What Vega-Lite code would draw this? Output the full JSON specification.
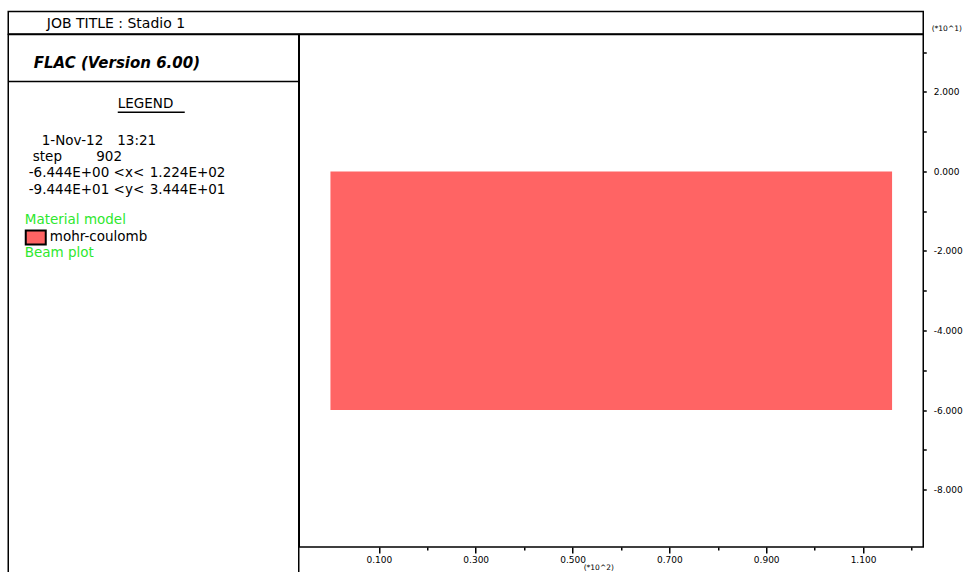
{
  "$schema": "https://vega.github.io/schema/vega-lite/v6.json",
  "background": "white",
  "padding": {"left": 6.25, "top": 10.5, "right": 0, "bottom": 0},
  "spacing": 0,
  "bounds": "flush",
  "config": {
    "view": {"stroke": "black", "strokeWidth": 1.5},
    "font": "DejaVu Sans",
    "text": {"font": "DejaVu Sans", "color": "black"}
  },
  "vconcat": [
    {
      "width": 915,
      "height": 22.5,
      "data": {"values": [{"label": "JOB TITLE : Stadio 1", "col": 38.5, "row": 12}]},
      "mark": {"type": "text", "align": "left", "baseline": "middle", "fontSize": 14},
      "encoding": {
        "x": {"field": "col", "type": "quantitative", "scale": {"domain": [0, 915], "nice": false, "zero": false}, "axis": null},
        "y": {"field": "row", "type": "quantitative", "scale": {"domain": [0, 22.5], "reverse": true, "nice": false, "zero": false}, "axis": null},
        "text": {"field": "label"}
      }
    },
    {
      "hconcat": [
        {
          "width": 290.5,
          "height": 547,
          "layer": [
            {
              "data": {"values": [
                {"label": "FLAC (Version 6.00)", "col": 25.5, "line": -4.875}
              ]},
              "mark": {"type": "text", "align": "left", "baseline": "middle", "fontSize": 15, "fontWeight": "bold", "fontStyle": "italic"},
              "encoding": {
                "x": {"field": "col", "type": "quantitative", "scale": {"domain": [0, 290.5], "nice": false, "zero": false}, "axis": null},
                "y": {"field": "line", "type": "quantitative", "scale": {"domain": [-6.625, 27.5625], "reverse": true, "nice": false, "zero": false}, "axis": null},
                "text": {"field": "label"}
              }
            },
            {
              "data": {"values": [
                {"label": "LEGEND", "col": 109.5, "line": -2.3125, "kind": "plain"},
                {"label": "1-Nov-12", "col": 33.5, "line": 0, "kind": "plain"},
                {"label": "13:21", "col": 109, "line": 0, "kind": "plain"},
                {"label": "step", "col": 24.5, "line": 1, "kind": "plain"},
                {"label": "902", "col": 88, "line": 1, "kind": "plain"},
                {"label": "-6.444E+00 <x<", "col": 20.5, "line": 2, "kind": "plain"},
                {"label": "1.224E+02", "col": 141.5, "line": 2, "kind": "plain"},
                {"label": "-9.444E+01 <y<", "col": 20.5, "line": 3.1, "kind": "plain"},
                {"label": "3.444E+01", "col": 141.5, "line": 3.1, "kind": "plain"},
                {"label": "Material model", "col": 16.5, "line": 4.97, "kind": "green"},
                {"label": "mohr-coulomb", "col": 41.5, "line": 6.05, "kind": "plain"},
                {"label": "Beam plot", "col": 16.5, "line": 7.05, "kind": "green"}
              ]},
              "mark": {"type": "text", "align": "left", "baseline": "middle", "fontSize": 13.5},
              "encoding": {
                "x": {"field": "col", "type": "quantitative"},
                "y": {"field": "line", "type": "quantitative"},
                "text": {"field": "label"},
                "color": {"field": "kind", "type": "nominal", "scale": {"domain": ["plain", "green"], "range": ["black", "#2ee82e"]}, "legend": null}
              }
            },
            {
              "data": {"values": [
                {"item": "FLAC box divider", "col": 0, "col2": 290.5, "line": -3.6875},
                {"item": "LEGEND underline", "col": 109.5, "col2": 176.5, "line": -1.77}
              ]},
              "mark": {"type": "rule", "color": "black", "strokeWidth": 1.5},
              "encoding": {
                "x": {"field": "col", "type": "quantitative"},
                "x2": {"field": "col2"},
                "y": {"field": "line", "type": "quantitative"}
              }
            },
            {
              "data": {"values": [{"model": "mohr-coulomb", "col": 17.5, "col2": 37.5, "line": 5.625, "line2": 6.5}]},
              "mark": {"type": "rect", "fill": "#ff6464", "stroke": "black", "strokeWidth": 2},
              "encoding": {
                "x": {"field": "col", "type": "quantitative"},
                "x2": {"field": "col2"},
                "y": {"field": "line", "type": "quantitative"},
                "y2": {"field": "line2"}
              }
            }
          ]
        },
        {
          "width": 624,
          "height": 512.5,
          "data": {"values": [{"model": "mohr-coulomb", "x_start": 0, "x_end": 1.16, "y_top": 0, "y_bottom": -6}]},
          "mark": {"type": "rect", "fill": "#ff6464"},
          "encoding": {
            "x": {
              "field": "x_start",
              "type": "quantitative",
              "scale": {"domain": [-0.06444, 1.2244], "nice": false, "zero": false},
              "axis": {
                "orient": "bottom",
                "values": [0.1, 0.2, 0.3, 0.4, 0.5, 0.6, 0.7, 0.8, 0.9, 1.0, 1.1, 1.2],
                "labelExpr": "round(datum.value*10) % 2 == 1 ? format(datum.value, '.3f') : ''",
                "tickSize": {"condition": {"test": "round(datum.value*10) % 2 == 1", "value": 6}, "value": 3},
                "tickColor": "black",
                "tickWidth": 1.5,
                "domain": false,
                "grid": false,
                "labelFont": "DejaVu Sans",
                "labelFontSize": 9,
                "labelColor": "black",
                "labelPadding": 2,
                "labelFlush": false,
                "labelOverlap": false,
                "title": "(*10^2)",
                "titleFont": "DejaVu Sans",
                "titleFontSize": 7.5,
                "titleFontWeight": "normal",
                "titleColor": "black",
                "titleX": 299,
                "titleY": 20,
                "titleBaseline": "middle",
                "titleAlign": "center"
              }
            },
            "x2": {"field": "x_end"},
            "y": {
              "field": "y_top",
              "type": "quantitative",
              "scale": {"domain": [-9.444, 3.444], "nice": false, "zero": false},
              "axis": {
                "orient": "right",
                "values": [-8, -7, -6, -5, -4, -3, -2, -1, 0, 1, 2, 3],
                "labelExpr": "abs(round(datum.value)) % 2 == 0 ? replace(format(datum.value, '.3f'), '\u2212', '-') : ''",
                "tickSize": 3,
                "tickColor": "black",
                "tickWidth": 1.5,
                "domain": false,
                "grid": false,
                "labelFont": "DejaVu Sans",
                "labelFontSize": 9,
                "labelColor": "black",
                "labelPadding": 7,
                "labelFlush": false,
                "labelOverlap": false,
                "labelBaseline": "middle",
                "title": "(*10^1)",
                "titleFont": "DejaVu Sans",
                "titleFontSize": 7.5,
                "titleFontWeight": "normal",
                "titleColor": "black",
                "titleAngle": 0,
                "titleX": 23,
                "titleY": -6,
                "titleAlign": "center",
                "titleBaseline": "middle"
              }
            },
            "y2": {"field": "y_bottom"}
          }
        }
      ],
      "spacing": 0,
      "bounds": "flush"
    }
  ]
}
